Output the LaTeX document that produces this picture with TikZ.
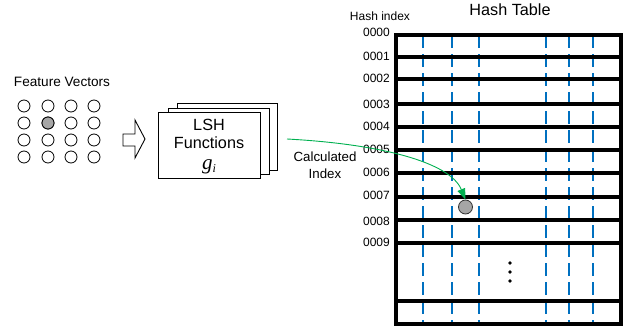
\documentclass[tikz,border=0pt]{standalone}
\usepackage{fontspec}
\setmainfont{Liberation Sans}
\newfontfamily\timesit{Liberation Serif}
\usetikzlibrary{arrows.meta}
\definecolor{hashblue}{HTML}{0070C0}
\definecolor{calcgreen}{HTML}{00B050}
\definecolor{dotgrey}{HTML}{A6A6A6}
\begin{document}
\begin{tikzpicture}[x=1pt,y=-1pt,
  fv/.style={circle,draw=black,line width=0.8pt,fill=white,minimum size=12pt,inner sep=0pt},
  fvsel/.style={fv,fill=dotgrey},
  lshbox/.style={draw=black,line width=0.9pt,fill=white},
  rowline/.style={line width=3.6pt,black},
  colline/.style={line width=2.8pt,hashblue,dash pattern=on 13pt off 6pt},
  idx/.style={anchor=east,inner sep=0pt,font=\fontsize{12}{12}\selectfont},
  lbl/.style={inner sep=0pt,align=center},
  calc/.style={calcgreen,line width=0.9pt,-{Triangle[length=11pt,width=8pt]}}
]
\useasboundingbox (0,0) rectangle (638,327);

% Feature vectors
\node[lbl,font=\fontsize{13.6}{14}\selectfont] (fvlabel) at (62,82) {Feature Vectors};
\foreach \r/\y in {1/106,2/123,3/140,4/157}{
  \foreach \c/\x in {1/24,2/48,3/71,4/94}{
    \node[fv] (fv\r\c) at (\x,\y) {};
  }
}
\node[fvsel] (fvhit) at (48,123) {};

% Hollow arrow
\draw[line width=0.9pt,fill=white] (123,134) -- (135,134) -- (135,120) -- (145,139) -- (135,158) -- (135,146) -- (123,146) -- cycle;

% LSH stacked boxes
\draw[lshbox] (177,103) rectangle (277,170);
\draw[lshbox] (168,108) rectangle (269,174);
\draw[lshbox] (158,112) rectangle (260,178);
\node[lbl,font=\fontsize{16.2}{16}\selectfont] (lsh) at (209,125) {LSH};
\node[lbl,font=\fontsize{16.2}{16}\selectfont] (func) at (209,143) {Functions};
\node[lbl,text height=9pt,text depth=3pt] (gi) at (209,166) {\timesit\itshape\fontsize{21}{21}\selectfont g\raisebox{-3pt}{\fontsize{12}{12}\selectfont i}};

% Hash table titles
\node[lbl,font=\fontsize{16.2}{16}\selectfont] (title) at (510,10) {Hash Table};
\node[lbl,font=\fontsize{12}{12}\selectfont] (hidx) at (380,16) {Hash index};

% Vertical dashed columns
\foreach \x in {423,452,479,546,569,593}{
  \draw[colline] (\x,35) -- (\x,324);
}
% Row lines
\foreach \y in {57,79,104,127,150,173,197,220,243,301}{
  \draw[rowline] (396,\y) -- (621,\y);
}
\draw[rowline,line join=miter] (396,35) rectangle (621,324);

% Index labels
\node[idx] (i0) at (390,32) {0000};
\node[idx] (i1) at (390,56) {0001};
\node[idx] (i2) at (390,78) {0002};
\node[idx] (i3) at (390,104) {0003};
\node[idx] (i4) at (390,126) {0004};
\node[idx] (i5) at (390,149) {0005};
\node[idx] (i6) at (390,172) {0006};
\node[idx] (i7) at (390,195) {0007};
\node[idx] (i8) at (390,221) {0008};
\node[idx] (i9) at (390,242) {0009};

% Ellipsis
\foreach \y in {263,272,281}{
  \fill[black] (510,\y) circle (1.8pt);
}

% Stored item
\node[circle,draw=black!80,line width=0.8pt,fill=dotgrey,minimum size=14pt,inner sep=0pt] (hit) at (465.5,207) {};

% Calculated index arrow
\coordinate (cstart) at (287,139);
\draw[calc] (cstart) .. controls (380,144) and (450,162) .. (hit.north);
\node[lbl,font=\fontsize{13.3}{17}\selectfont] (calclbl) at (325,165) {Calculated\\Index};
\end{tikzpicture}
\end{document}
